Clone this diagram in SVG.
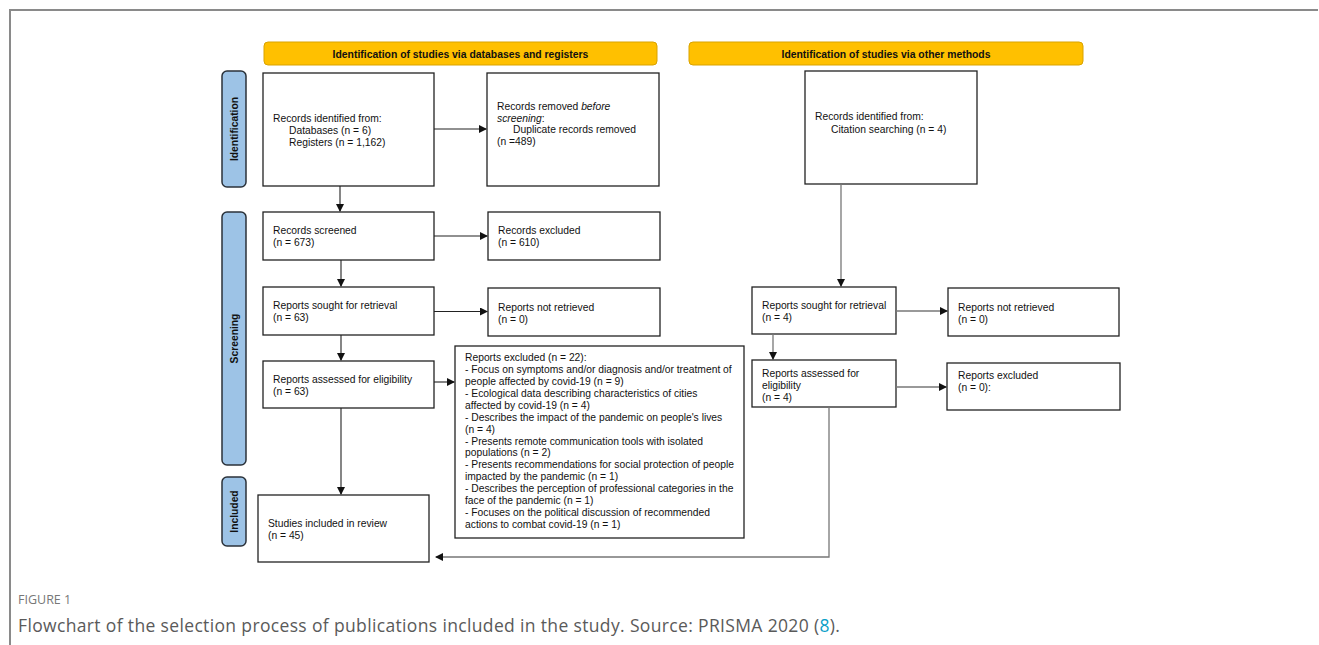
<svg xmlns="http://www.w3.org/2000/svg" width="1319" height="645" viewBox="0 0 1319 645">
<style>
.frame{fill:none;stroke:#8a8a8a;stroke-width:2}
.box{fill:#fff;stroke:#222;stroke-width:1.3}
.hdr{fill:#FFC000;stroke:#d9a300;stroke-width:1}
.phase{fill:#9DC3E6;stroke:#2b323a;stroke-width:1.5}
.t{font-family:"Liberation Sans",Arial,sans-serif;font-size:10.3px;fill:#111}
.ht{font-family:"Liberation Sans",Arial,sans-serif;font-size:10.4px;font-weight:bold;fill:#111;text-anchor:middle}
.pt{font-family:"Liberation Sans",Arial,sans-serif;font-size:10.3px;font-weight:bold;fill:#111;text-anchor:middle}
.c{fill:none;stroke:#222;stroke-width:1.1}
.g{fill:none;stroke:#777;stroke-width:1.3}
.cap1{font-family:"Open Sans","Liberation Sans",sans-serif;font-size:12.5px;fill:#777}
.cap2{font-family:"Open Sans","Liberation Sans",sans-serif;font-size:17.5px;letter-spacing:0.35px;fill:#5a5a5a}
</style>
<defs>
<marker id="ah" markerUnits="userSpaceOnUse" markerWidth="8" markerHeight="8" refX="7" refY="4" orient="auto">
<path d="M0,0 L8,4 L0,8 z" fill="#111"/>
</marker>
</defs>
<rect width="1319" height="645" fill="#fff"/>
<path class="frame" d="M10,645 L10,10 L1318,10"/>

<g id="hdr-db"><rect class="hdr" x="264" y="42" width="393" height="23" rx="4"/><text class="ht" x="460.5" y="57.6">Identification of studies via databases and registers</text></g>
<g id="hdr-other"><rect class="hdr" x="689" y="42" width="394" height="23" rx="4"/><text class="ht" x="886" y="57.6">Identification of studies via other methods</text></g>

<g id="phase-identification"><rect class="phase" x="222" y="71" width="24" height="116" rx="5"/><text class="pt" transform="translate(237.8,129) rotate(-90)">Identification</text></g>
<g id="phase-screening"><rect class="phase" x="222" y="212" width="24" height="253" rx="5"/><text class="pt" transform="translate(237.8,338.5) rotate(-90)">Screening</text></g>
<g id="phase-included"><rect class="phase" x="222" y="477" width="24" height="69" rx="5"/><text class="pt" transform="translate(237.8,511.5) rotate(-90)">Included</text></g>

<g id="records-identified"><rect class="box" x="263" y="73" width="171" height="113"/>
<text class="t" x="273" y="122">Records identified from:</text>
<text class="t" x="289" y="134">Databases (n = 6)</text>
<text class="t" x="289" y="146">Registers (n = 1,162)</text></g>

<g id="records-removed"><rect class="box" x="487" y="73" width="172" height="113"/>
<text class="t" x="497" y="110">Records removed <tspan font-style="italic">before</tspan></text>
<text class="t" x="497" y="121.7"><tspan font-style="italic">screening</tspan>:</text>
<text class="t" x="513" y="133.4">Duplicate records removed</text>
<text class="t" x="497" y="145.1">(n =489)</text></g>

<g id="citation"><rect class="box" x="805" y="71" width="172" height="113"/>
<text class="t" x="815" y="120">Records identified from:</text>
<text class="t" x="831" y="132.5">Citation searching (n = 4)</text></g>

<g id="records-screened"><rect class="box" x="263" y="212" width="171" height="48"/>
<text class="t" x="273" y="234">Records screened</text>
<text class="t" x="273" y="246">(n = 673)</text></g>

<g id="records-excluded"><rect class="box" x="488" y="212" width="172" height="48"/>
<text class="t" x="498" y="234">Records excluded</text>
<text class="t" x="498" y="246">(n = 610)</text></g>

<g id="sought-left"><rect class="box" x="263" y="287" width="171" height="48"/>
<text class="t" x="273" y="309">Reports sought for retrieval</text>
<text class="t" x="273" y="321">(n = 63)</text></g>

<g id="not-retrieved-left"><rect class="box" x="488" y="288" width="172" height="48"/>
<text class="t" x="498" y="311">Reports not retrieved</text>
<text class="t" x="498" y="323">(n = 0)</text></g>

<g id="assessed-left"><rect class="box" x="263" y="361" width="171" height="47"/>
<text class="t" x="273" y="383">Reports assessed for eligibility</text>
<text class="t" x="273" y="395">(n = 63)</text></g>

<g id="excluded-left"><rect class="box" x="455" y="346" width="289" height="192"/>
<text class="t" x="465" y="361">Reports excluded (n = 22):</text>
<text class="t" x="465" y="372.9">- Focus on symptoms and/or diagnosis and/or treatment of</text>
<text class="t" x="465" y="384.9">people affected by covid-19 (n = 9)</text>
<text class="t" x="465" y="396.8">- Ecological data describing characteristics of cities</text>
<text class="t" x="465" y="408.7">affected by covid-19 (n = 4)</text>
<text class="t" x="465" y="420.7">- Describes the impact of the pandemic on people's lives</text>
<text class="t" x="465" y="432.6">(n = 4)</text>
<text class="t" x="465" y="444.5">- Presents remote communication tools with isolated</text>
<text class="t" x="465" y="456.4">populations (n = 2)</text>
<text class="t" x="465" y="468.4">- Presents recommendations for social protection of people</text>
<text class="t" x="465" y="480.3">impacted by the pandemic (n = 1)</text>
<text class="t" x="465" y="492.2">- Describes the perception of professional categories in the</text>
<text class="t" x="465" y="504.2">face of the pandemic (n = 1)</text>
<text class="t" x="465" y="516.1">- Focuses on the political discussion of recommended</text>
<text class="t" x="465" y="528">actions to combat covid-19 (n = 1)</text></g>

<g id="studies-included"><rect class="box" x="258" y="495" width="171" height="67"/>
<text class="t" x="268" y="527">Studies included in review</text>
<text class="t" x="268" y="539">(n = 45)</text></g>

<g id="sought-right"><rect class="box" x="752" y="287" width="144" height="47"/>
<text class="t" x="762" y="309">Reports sought for retrieval</text>
<text class="t" x="762" y="321">(n = 4)</text></g>

<g id="not-retrieved-right"><rect class="box" x="948" y="288" width="171" height="48"/>
<text class="t" x="958" y="311">Reports not retrieved</text>
<text class="t" x="958" y="323">(n = 0)</text></g>

<g id="assessed-right"><rect class="box" x="752" y="360" width="144" height="47"/>
<text class="t" x="762" y="377">Reports assessed for</text>
<text class="t" x="762" y="389">eligibility</text>
<text class="t" x="762" y="401">(n = 4)</text></g>

<g id="excluded-right"><rect class="box" x="947" y="363" width="173" height="47"/>
<text class="t" x="958" y="379">Reports excluded</text>
<text class="t" x="958" y="391">(n = 0):</text></g>

<g id="connectors">
<path class="c" d="M340,186 V211" marker-end="url(#ah)"/>
<path class="c" d="M434,129 H486" marker-end="url(#ah)"/>
<path class="c" d="M434,236 H487" marker-end="url(#ah)"/>
<path class="c" d="M341,260 V286" marker-end="url(#ah)"/>
<path class="c" d="M434,311.5 H487" marker-end="url(#ah)"/>
<path class="c" d="M341,335 V360" marker-end="url(#ah)"/>
<path class="c" d="M434,382 H454" marker-end="url(#ah)"/>
<path class="c" d="M341,408 V494" marker-end="url(#ah)"/>
<path class="g" d="M841,184 V286" marker-end="url(#ah)"/>
<path class="g" d="M773,334 V359" marker-end="url(#ah)"/>
<path class="g" d="M896,311 H947" marker-end="url(#ah)"/>
<path class="g" d="M896,387 H946" marker-end="url(#ah)"/>
<path class="g" d="M829,407 V557 H436" marker-end="url(#ah)"/>
</g>

<text class="cap1" x="18" y="604">FIGURE 1</text>
<text class="cap2" x="18" y="632">Flowchart of the selection process of publications included in the study. Source: PRISMA 2020 (<tspan fill="#0aa0c8">8</tspan>).</text>
</svg>
